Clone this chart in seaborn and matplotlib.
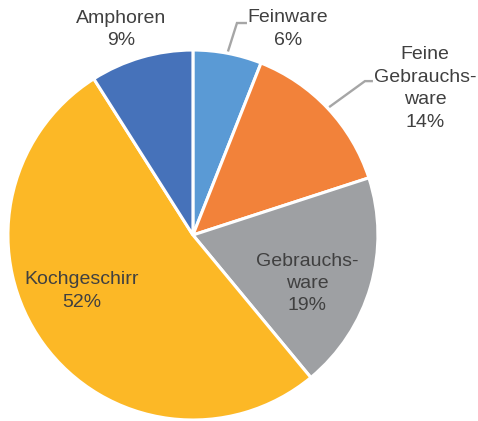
import numpy as np
import matplotlib
matplotlib.use("Agg")
import matplotlib.pyplot as plt
import seaborn as sns

# Keramik-Anteile (Prozent)
categories = ["Feinware", "Feine\nGebrauchs-\nware", "Gebrauchs-\nware", "Kochgeschirr", "Amphoren"]
shares = [6, 14, 19, 52, 9]
colors = ["#5A9AD5", "#F2823A", "#9EA0A3", "#FCB826", "#4672BA"]

sns.set_style("white")
plt.rcParams["font.family"] = ["Liberation Sans", "DejaVu Sans"]

fig = plt.figure(figsize=(4.78, 4.21), dpi=100)
ax = fig.add_axes([0, 0, 1, 1])

wedges, _ = ax.pie(
    shares, colors=colors, startangle=90, counterclock=False, radius=1.0,
    wedgeprops=dict(edgecolor="white", linewidth=2.2),
)

ax.set_xlim(-1.043, 1.541)
ax.set_ylim(-1.005, 1.270)
ax.set_aspect("equal")
ax.axis("off")

# label anchors (data units, pie radius = 1)
label_pos = [(0.514, 1.114), (1.254, 0.792), (0.616, -0.262), (-0.600, -0.303), (-0.389, 1.110)]
# leader elbows for labels sitting outside the pie
elbows = {0: [(0.292, 1.146), (0.238, 1.146)], 1: [(0.973, 0.832), (0.930, 0.832)]}

text_color = "#404040"
for i, (w, name, val) in enumerate(zip(wedges, categories, shares)):
    x, y = label_pos[i]
    ax.text(x, y, f"{name}\n{val}%", ha="center", va="center", fontsize=14,
            color=text_color, linespacing=1.42)
    if i in elbows:
        mid = np.deg2rad((w.theta1 + w.theta2) / 2)
        ex, ey = np.cos(mid) * 1.01, np.sin(mid) * 1.01
        pts = elbows[i] + [(ex, ey)]
        ax.plot([p[0] for p in pts], [p[1] for p in pts], color="#A6A6A6",
                lw=1.7, solid_capstyle="butt", solid_joinstyle="miter")

fig.savefig("out.png", dpi=100, facecolor="white")
